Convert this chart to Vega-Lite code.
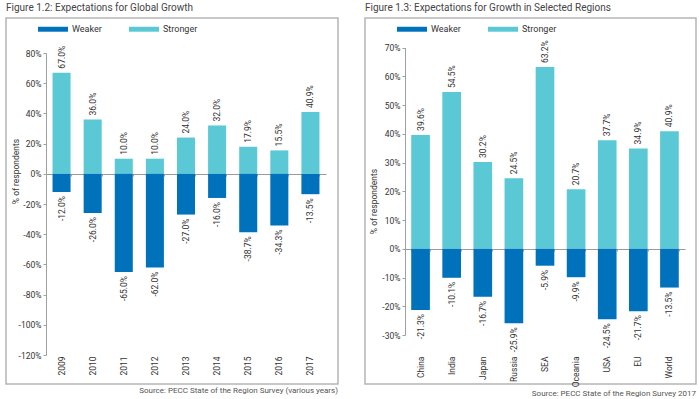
{
  "$schema": "https://vega.github.io/schema/vega-lite/v6.json",
  "background": "white",
  "padding": {"left": 5, "top": 3, "right": 6, "bottom": 2},
  "datasets": {
    "global": [
      {"year": "2009", "type": "Stronger", "value": 0.67},
      {"year": "2009", "type": "Weaker", "value": -0.12},
      {"year": "2010", "type": "Stronger", "value": 0.36},
      {"year": "2010", "type": "Weaker", "value": -0.26},
      {"year": "2011", "type": "Stronger", "value": 0.10},
      {"year": "2011", "type": "Weaker", "value": -0.65},
      {"year": "2012", "type": "Stronger", "value": 0.10},
      {"year": "2012", "type": "Weaker", "value": -0.62},
      {"year": "2013", "type": "Stronger", "value": 0.24},
      {"year": "2013", "type": "Weaker", "value": -0.27},
      {"year": "2014", "type": "Stronger", "value": 0.32},
      {"year": "2014", "type": "Weaker", "value": -0.16},
      {"year": "2015", "type": "Stronger", "value": 0.179},
      {"year": "2015", "type": "Weaker", "value": -0.387},
      {"year": "2016", "type": "Stronger", "value": 0.155},
      {"year": "2016", "type": "Weaker", "value": -0.343},
      {"year": "2017", "type": "Stronger", "value": 0.409},
      {"year": "2017", "type": "Weaker", "value": -0.135}
    ],
    "regions": [
      {"region": "China", "type": "Stronger", "value": 0.396},
      {"region": "China", "type": "Weaker", "value": -0.213},
      {"region": "India", "type": "Stronger", "value": 0.545},
      {"region": "India", "type": "Weaker", "value": -0.101},
      {"region": "Japan", "type": "Stronger", "value": 0.302},
      {"region": "Japan", "type": "Weaker", "value": -0.167},
      {"region": "Russia", "type": "Stronger", "value": 0.245},
      {"region": "Russia", "type": "Weaker", "value": -0.259},
      {"region": "SEA", "type": "Stronger", "value": 0.632},
      {"region": "SEA", "type": "Weaker", "value": -0.059},
      {"region": "Oceania", "type": "Stronger", "value": 0.207},
      {"region": "Oceania", "type": "Weaker", "value": -0.099},
      {"region": "USA", "type": "Stronger", "value": 0.377},
      {"region": "USA", "type": "Weaker", "value": -0.245},
      {"region": "EU", "type": "Stronger", "value": 0.349},
      {"region": "EU", "type": "Weaker", "value": -0.217},
      {"region": "World", "type": "Stronger", "value": 0.409},
      {"region": "World", "type": "Weaker", "value": -0.135}
    ]
  },
  "config": {
    "font": "Liberation Sans Narrow, Roboto, sans-serif",
    "view": {"stroke": "#b5b5b5", "strokeWidth": 1.5},
    "locale": {"number": {"decimal": ".", "thousands": ",", "grouping": [3], "currency": ["$", ""], "minus": "-"}},
    "axis": {
      "grid": false,
      "labelFontSize": 8.5,
      "labelColor": "#333333",
      "titleFontSize": 8.5,
      "titleFontWeight": "normal",
      "titleColor": "#333333",
      "domainColor": "#a0a0a0",
      "tickColor": "#a0a0a0"
    },
    "legend": {
      "orient": "none",
      "direction": "horizontal",
      "legendX": 39.5,
      "legendY": 3.5,
      "title": null,
      "symbolType": "M-2,-0.33H2V0.33H-2Z",
      "symbolSize": 225,
      "symbolStrokeWidth": 0,
      "labelOffset": 11.5,
      "columnPadding": 26,
      "labelFontSize": 9,
      "labelColor": "#333333"
    },
    "title": {"fontWeight": "normal"}
  },
  "spacing": 25,
  "resolve": {"scale": {"color": "independent"}, "legend": {"color": "independent"}},
  "hconcat": [
    {
      "title": {"text": "Figure 1.2: Expectations for Global Growth", "anchor": "start", "frame": "group", "fontSize": 10, "color": "#444444", "offset": 4},
      "resolve": {"scale": {"color": "independent"}, "legend": {"color": "independent"}},
      "vconcat": [
        {
          "width": 332,
          "height": 366,
          "data": {"name": "global"},
          "title": {"text": "Source: PECC State of the Region Survey (various years)", "orient": "bottom", "anchor": "end", "frame": "group", "fontSize": 8, "color": "#555555", "offset": 3},
          "encoding": {
            "y": {
              "field": "value", "type": "quantitative", "stack": null,
              "scale": {"domain": [-1.2, 0.8], "range": [337, 35], "nice": false, "zero": false},
              "axis": {"title": "% of respondents", "offset": -40, "format": ".0%", "values": [-1.2, -1, -0.8, -0.6, -0.4, -0.2, 0, 0.2, 0.4, 0.6, 0.8], "tickSize": 3, "labelPadding": 2, "titleX": -31, "titleY": 153, "titleBaseline": "middle", "titleAngle": 270}
            }
          },
          "layer": [
            {
              "mark": {"type": "bar"},
              "encoding": {
                "x": {"field": "year", "type": "nominal", "sort": null, "scale": {"range": [40, 320], "paddingInner": 0.42, "paddingOuter": 0.21},
                  "axis": {"orient": "bottom", "offset": -28, "domain": false, "ticks": false, "tickSize": 0, "labelPadding": 0, "labelAngle": 270, "title": null}},
                "color": {"field": "type", "type": "nominal", "scale": {"domain": ["Weaker", "Stronger"], "range": ["#0072bc", "#5bc8d6"]}}
              }
            },
            {
              "transform": [{"filter": "datum.value > 0"}],
              "mark": {"type": "text", "angle": 270, "align": "left", "baseline": "middle", "dx": 4, "fontSize": 8.5, "color": "#333333"},
              "encoding": {
                "x": {"field": "year", "type": "nominal", "sort": null, "scale": {"range": [40, 320], "paddingInner": 0.42, "paddingOuter": 0.21},
                  "axis": {"orient": "bottom", "offset": -210, "labels": false, "domain": true, "ticks": true, "tickBand": "extent", "tickSize": 2, "title": null, "domainColor": "#9a9a9a"}},
                "text": {"field": "value", "type": "quantitative", "format": ".1%"}
              }
            },
            {
              "transform": [{"filter": "datum.value < 0"}],
              "mark": {"type": "text", "angle": 270, "align": "right", "baseline": "middle", "dx": -4, "fontSize": 8.5, "color": "#333333"},
              "encoding": {
                "x": {"field": "year", "type": "nominal", "sort": null, "scale": {"range": [40, 320], "paddingInner": 0.42, "paddingOuter": 0.21}, "axis": null},
                "text": {"field": "value", "type": "quantitative", "format": ".1%"}
              }
            }
          ],
          "resolve": {"axis": {"x": "independent"}}
        }
      ]
    },
    {
      "title": {"text": "Figure 1.3: Expectations for Growth in Selected Regions", "anchor": "start", "frame": "group", "fontSize": 10, "color": "#444444", "offset": 4},
      "resolve": {"scale": {"color": "independent"}, "legend": {"color": "independent"}},
      "vconcat": [
        {
          "width": 331,
          "height": 366,
          "data": {"name": "regions"},
          "title": {"text": "Source: PECC State of the Region Survey 2017", "orient": "bottom", "anchor": "end", "frame": "group", "fontSize": 8, "color": "#555555", "offset": 3},
          "encoding": {
            "y": {
              "field": "value", "type": "quantitative", "stack": null,
              "scale": {"domain": [-0.3, 0.7], "range": [317, 29.5], "nice": false, "zero": false},
              "axis": {"title": "% of respondents", "offset": -40, "format": ".0%", "values": [-0.3, -0.2, -0.1, 0, 0.1, 0.2, 0.3, 0.4, 0.5, 0.6, 0.7], "tickSize": 3, "labelPadding": 2, "titleX": -32, "titleY": 183, "titleBaseline": "middle", "titleAngle": 270}
            }
          },
          "layer": [
            {
              "mark": {"type": "bar"},
              "encoding": {
                "x": {"field": "region", "type": "nominal", "sort": null, "scale": {"range": [40, 320], "paddingInner": 0.4, "paddingOuter": 0.2},
                  "axis": {"orient": "bottom", "offset": -28, "domain": false, "ticks": false, "tickSize": 0, "labelPadding": 0, "labelAngle": 270, "title": null}},
                "color": {"field": "type", "type": "nominal", "scale": {"domain": ["Weaker", "Stronger"], "range": ["#0072bc", "#5bc8d6"]}}
              }
            },
            {
              "transform": [{"filter": "datum.value > 0"}],
              "mark": {"type": "text", "angle": 270, "align": "left", "baseline": "middle", "dx": 4, "fontSize": 8.5, "color": "#333333"},
              "encoding": {
                "x": {"field": "region", "type": "nominal", "sort": null, "scale": {"range": [40, 320], "paddingInner": 0.4, "paddingOuter": 0.2},
                  "axis": {"orient": "bottom", "offset": -135, "labels": false, "domain": true, "ticks": true, "tickBand": "extent", "tickSize": 2, "title": null, "domainColor": "#9a9a9a"}},
                "text": {"field": "value", "type": "quantitative", "format": ".1%"}
              }
            },
            {
              "transform": [{"filter": "datum.value < 0"}],
              "mark": {"type": "text", "angle": 270, "align": "right", "baseline": "middle", "dx": -4, "fontSize": 8.5, "color": "#333333"},
              "encoding": {
                "x": {"field": "region", "type": "nominal", "sort": null, "scale": {"range": [40, 320], "paddingInner": 0.4, "paddingOuter": 0.2}, "axis": null},
                "text": {"field": "value", "type": "quantitative", "format": ".1%"}
              }
            }
          ],
          "resolve": {"axis": {"x": "independent"}}
        }
      ]
    }
  ]
}
